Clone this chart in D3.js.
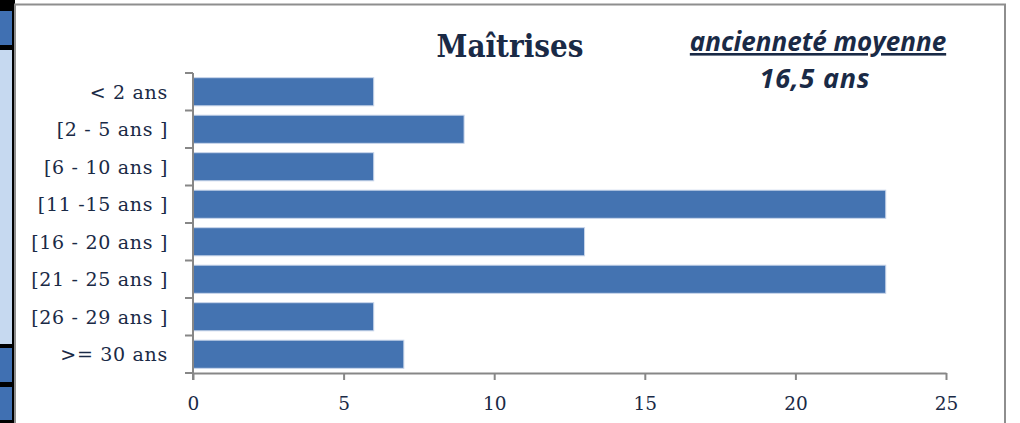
<!DOCTYPE html>
<html><head><meta charset="utf-8">
<script src="https://cdn.jsdelivr.net/npm/d3@7"></script>
<style>html,body{margin:0;padding:0;background:#fff;overflow:hidden}</style>
</head><body>
<svg id="c" width="1020" height="423"></svg>
<script>
const categories = ["< 2 ans","[2 - 5 ans ]","[6 - 10 ans ]","[11 -15 ans ]","[16 - 20 ans ]","[21 - 25 ans ]","[26 - 29 ans ]",">= 30 ans"];
const values = [6, 9, 6, 23, 13, 23, 6, 7];
const xTicks = [0, 5, 10, 15, 20, 25];
const title = "Maîtrises";
const noteLine1 = "ancienneté moyenne";
const noteLine2 = "16,5 ans";

const svg = d3.select("#c");
const textColor = "#1a2a46";
const axisColor = "#878787";

// left strip (neighbouring cells)
svg.append("rect").attr("x",0).attr("y",0).attr("width",15).attr("height",423).attr("fill","#000");
svg.append("rect").attr("x",0).attr("y",11).attr("width",12).attr("height",34).attr("fill","#4070b2");
svg.append("rect").attr("x",0).attr("y",50).attr("width",12).attr("height",294).attr("fill","#c6d9f0");
svg.append("rect").attr("x",0).attr("y",348).attr("width",12).attr("height",34).attr("fill","#4070b2");
svg.append("rect").attr("x",0).attr("y",387).attr("width",12).attr("height",33).attr("fill","#4070b2");

// chart frame
svg.append("rect").attr("x",15).attr("y",4.5).attr("width",990).attr("height",440)
  .attr("fill","#fff").attr("stroke","#8e8e8e").attr("stroke-width",2);

const x = d3.scaleLinear().domain([0,25]).range([193,946]);
const y = d3.scaleBand().domain(categories).range([73,373]).paddingInner(0.25).paddingOuter(0.125);

// bars
svg.append("g").selectAll("rect").data(values).join("rect")
  .attr("x", x(0))
  .attr("y", (d,i)=>y(categories[i]))
  .attr("width", d=>x(d)-x(0))
  .attr("height", y.bandwidth())
  .attr("fill","#4473b1")
  .attr("stroke","#c9d6ea").attr("stroke-width",1);

// x axis
const xa = svg.append("g").attr("transform","translate(0,373)")
  .call(d3.axisBottom(x).tickValues(xTicks).tickSize(7).tickSizeOuter(0).tickPadding(17));
xa.select(".domain").attr("stroke",axisColor).attr("stroke-width",2);
xa.selectAll(".tick line").attr("stroke",axisColor).attr("stroke-width",2);
xa.selectAll(".tick text").attr("fill",textColor).attr("font-family","DejaVu Serif").attr("font-size",18.5);

// y axis: line + ticks at category boundaries
const yAxisG = svg.append("g");
yAxisG.append("line").attr("x1",x(0)).attr("x2",x(0)).attr("y1",73).attr("y2",380)
  .attr("stroke",axisColor).attr("stroke-width",2);
const bounds = d3.range(categories.length+1).map(i=>73 + i*(300/categories.length));
yAxisG.selectAll("line.tk").data(bounds).join("line").attr("class","tk")
  .attr("x1",x(0)-8).attr("x2",x(0)).attr("y1",d=>d).attr("y2",d=>d)
  .attr("stroke",axisColor).attr("stroke-width",2);
yAxisG.selectAll("text").data(categories).join("text")
  .attr("x",168).attr("y",d=>y(d)+y.bandwidth()/2)
  .attr("dy","0.36em").attr("text-anchor","end")
  .attr("fill",textColor).attr("font-family","DejaVu Serif").attr("font-size",19)
  .attr("letter-spacing","0.7px")
  .text(d=>d);

// title
svg.append("text").attr("x",510).attr("y",57).attr("text-anchor","middle")
  .attr("fill",textColor).attr("font-family","DejaVu Serif Condensed, DejaVu Serif").attr("font-stretch","condensed")
  .attr("font-weight","bold").attr("font-size",31).text(title);

// note
svg.append("text").attr("x",818).attr("y",51).attr("text-anchor","middle")
  .attr("fill",textColor).attr("font-family","Open Sans").attr("font-weight","bold").attr("font-style","italic")
  .attr("font-size",26).attr("text-decoration","underline").text(noteLine1);
svg.append("text").attr("x",815).attr("y",88).attr("text-anchor","middle")
  .attr("fill",textColor).attr("font-family","Open Sans").attr("font-weight","bold").attr("font-style","italic")
  .attr("font-size",27).attr("letter-spacing","0.8px").text(noteLine2);
</script>
</body></html>
